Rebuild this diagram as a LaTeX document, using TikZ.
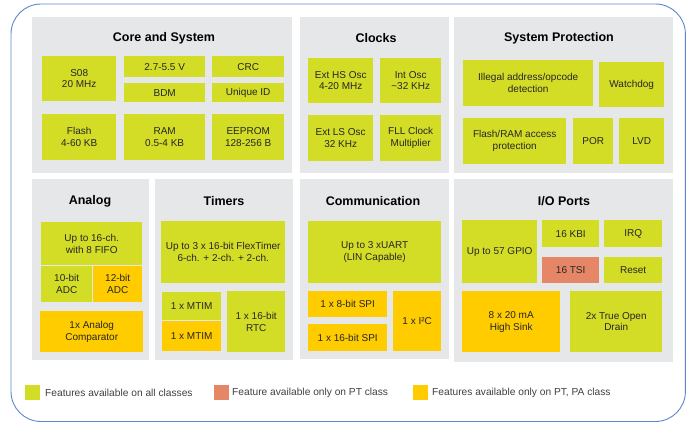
\documentclass[tikz,border=0pt]{standalone}
\usepackage{fontspec}
\setmainfont{Liberation Sans}
\definecolor{allgreen}{HTML}{D3DD26}
\definecolor{ptsalmon}{HTML}{E58767}
\definecolor{paptyellow}{HTML}{FFCC00}
\definecolor{panelgray}{HTML}{E6E7E8}
\definecolor{frameblue}{HTML}{5B88CC}
\begin{document}
\begin{tikzpicture}[x=1pt,y=-1pt,
    blk/.style={rectangle,inner sep=1pt,align=center,anchor=north west,text=black!85,font=\fontsize{10}{11.7}\selectfont},
    wh/.style 2 args={minimum width=#1,minimum height=#2},
    allcls/.style={blk,fill=allgreen},
    ptonly/.style={blk,fill=ptsalmon},
    papt/.style={blk,fill=paptyellow},
    ttl/.style={inner sep=0pt,font=\fontsize{12.5}{14}\selectfont\bfseries},
    legsq/.style={rectangle,inner sep=0pt,minimum size=15,anchor=north west},
    legtxt/.style={anchor=west,inner sep=0pt,text=black!75,font=\fontsize{10.2}{12}\selectfont}]
    \useasboundingbox (0,0) rectangle (686,424);
    \draw[frameblue,line width=0.9pt,rounded corners=30] (11,4) rectangle (685.4,421.5);
    % panels
    \fill[panelgray] (32,17) rectangle (292,173);
    \fill[panelgray] (300,17) rectangle (449,173);
    \fill[panelgray] (454,17) rectangle (673,173);
    \fill[panelgray] (32,179) rectangle (149,360);
    \fill[panelgray] (155,179) rectangle (293,360);
    \fill[panelgray] (300,179) rectangle (449,359);
    \fill[panelgray] (454,179) rectangle (673,362);
    % core and system
    \node[ttl] (tcore) at (164,38) {Core and System};
    \node[allcls,wh={74}{45}] (s08) at (42,56) {S08\\20 MHz};
    \node[allcls,wh={81}{21}] (vdd) at (124,56) {2.7-5.5 V};
    \node[allcls,wh={72}{21}] (crc) at (212,56) {CRC};
    \node[allcls,wh={81}{19}] (bdm) at (124,83) {BDM};
    \node[allcls,wh={72}{19}] (uid) at (212,83) {Unique ID};
    \node[allcls,wh={74}{46}] (flash) at (42,114) {Flash\\4-60 KB};
    \node[allcls,wh={81}{46}] (ram) at (124,114) {RAM\\0.5-4 KB};
    \node[allcls,wh={72}{46}] (eeprom) at (212,114) {EEPROM\\128-256 B};
    % clocks
    \node[ttl] (tclk) at (376,38) {Clocks};
    \node[allcls,wh={65}{45}] (exths) at (308,58) {Ext HS Osc\\4-20 MHz};
    \node[allcls,wh={61}{45}] (intosc) at (380,58) {Int Osc\\\textasciitilde32 KHz};
    \node[allcls,wh={65}{46}] (extls) at (308,115) {Ext LS Osc\\32 KHz};
    \node[allcls,wh={61}{46}] (fll) at (380,115) {FLL Clock\\Multiplier};
    % system protection
    \node[ttl] (tprot) at (559,38) {System Protection};
    \node[allcls,wh={130}{46}] (illegal) at (463,60) {Illegal address/opcode\\detection};
    \node[allcls,wh={65}{45}] (wdog) at (599,62) {Watchdog};
    \node[allcls,wh={103}{46}] (fprot) at (463,118) {Flash/RAM access\\protection};
    \node[allcls,wh={40}{46}] (por) at (573,118) {POR};
    \node[allcls,wh={45}{46}] (lvd) at (619,118) {LVD};
    % analog
    \node[ttl] (tana) at (90,201) {Analog};
    \node[allcls,wh={101}{43}] (adcch) at (41,222) {Up to 16-ch.\\with 8 FIFO};
    \node[allcls,wh={51}{36}] (adc10) at (41,266) {10-bit\\ADC};
    \node[papt,wh={49}{36}] (adc12) at (93,266) {12-bit\\ADC};
    \node[papt,wh={103}{41}] (acmp) at (40,311) {1x Analog\\Comparator};
    % timers
    \node[ttl] (ttmr) at (224,201) {Timers};
    \node[allcls,wh={124}{62}] (ftm) at (161,221) {Up to 3 x 16-bit FlexTimer\\6-ch. + 2-ch. + 2-ch.};
    \node[allcls,wh={59}{28}] (mtima) at (162,292) {1 x MTIM};
    \node[papt,wh={59}{30}] (mtimb) at (162,321) {1 x MTIM};
    \node[allcls,wh={58}{61}] (rtc) at (227,291) {1 x 16-bit\\RTC};
    % communication
    \node[ttl] (tcom) at (373,201) {Communication};
    \node[allcls,wh={133}{62}] (uart) at (308,221) {Up to 3 xUART\\(LIN Capable)};
    \node[papt,wh={79}{26}] (spia) at (308,291) {1 x 8-bit SPI};
    \node[papt,wh={79}{27}] (spib) at (308,324) {1 x 16-bit SPI};
    \node[papt,wh={48}{60}] (iic) at (393,291) {1 x I²C};
    % i/o ports
    \node[ttl] (tio) at (564,201) {I/O Ports};
    \node[allcls,wh={75}{63}] (gpio) at (462,220) {Up to 57 GPIO};
    \node[allcls,wh={57}{27}] (kbi) at (542,220) {16 KBI};
    \node[allcls,wh={58}{27}] (irq) at (604,220) {IRQ};
    \node[ptonly,wh={57}{26}] (tsi) at (542,257) {16 TSI};
    \node[allcls,wh={58}{26}] (rst) at (604,257) {Reset};
    \node[papt,wh={98}{61}] (sink) at (462,291) {8 x 20 mA\\High Sink};
    \node[allcls,wh={92}{61}] (odrain) at (570,291) {2x True Open\\Drain};
    % legend
    \node[legsq,fill=allgreen] (lega) at (25,385) {};
    \node[legsq,fill=ptsalmon] (legb) at (214,385) {};
    \node[legsq,fill=paptyellow] (legc) at (413,385) {};
    \node[legtxt] (legatxt) at (45,392.5) {Features available on all classes};
    \node[legtxt] (legbtxt) at (232,392.5) {Feature available only on PT class};
    \node[legtxt] (legctxt) at (432,392.5) {Features available only on PT, PA class};
\end{tikzpicture}
\end{document}
